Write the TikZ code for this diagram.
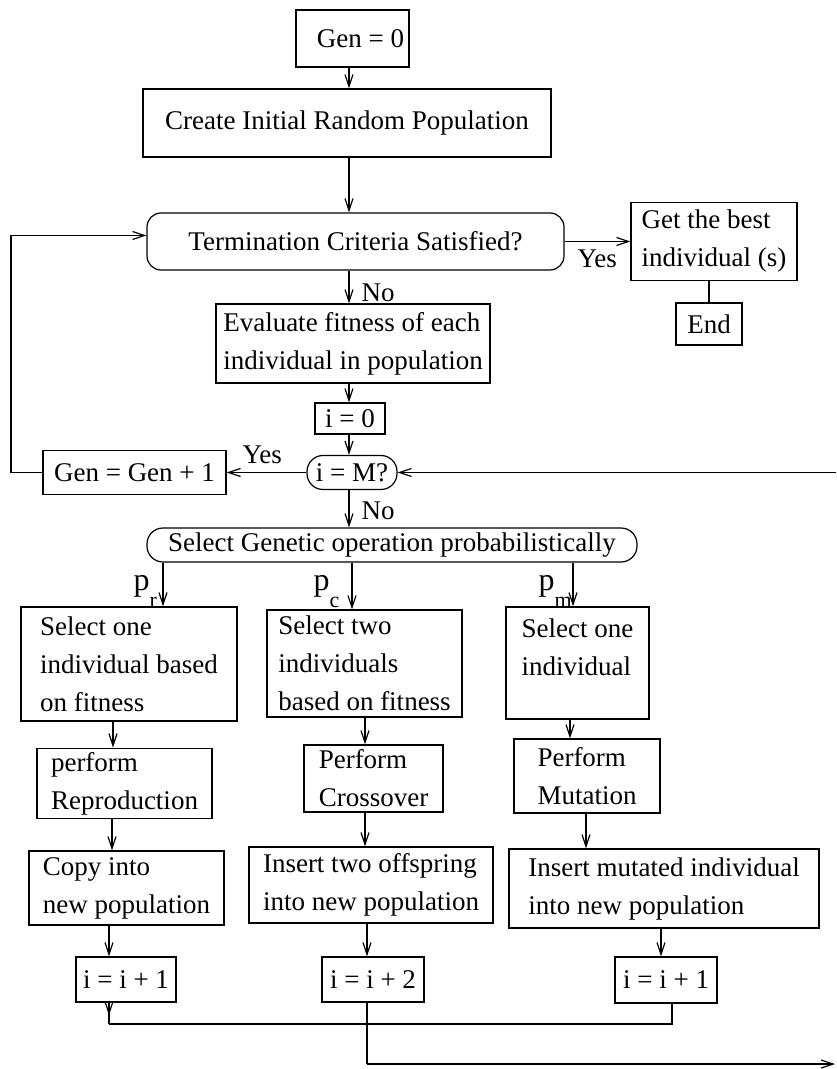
\documentclass[tikz,border=0pt]{standalone}
\usepackage{fontspec}
\setmainfont{Liberation Serif}
\usetikzlibrary{arrows.meta,decorations.markings}

\begin{document}
\begin{tikzpicture}[x=0.5pt,y=-0.5pt,
  line width=0.6pt,
  >={Straight Barb[length=6pt,width=4pt]},
  every node/.style={font=\fontsize{13.5}{19}\selectfont},
  box/.style={draw, inner sep=2pt, align=left},
  wh/.style 2 args={minimum width=#1pt, minimum height=#2pt},
  lbl/.style={anchor=base west, inner sep=0pt},
  arr/.style={->},
  midarr/.style={postaction={decorate},
    decoration={markings, mark=at position 0.6 with {\arrow{>}}}},
]
\useasboundingbox (0,0) rectangle (836,1069);

% main column
\node[box, wh={56.5}{28.5}] (gen0) at (352.5,38.5) {\hspace*{8pt}Gen = 0};
\node[box, wh={204}{34}] (create) at (347,123) {Create Initial Random Population};
\node[box, wh={208.5}{28.5}, rounded corners=7pt] (term) at (355.5,241.5) {Termination Criteria Satisfied?};
\node[box, wh={83}{39}] (best) at (714,241.5) {Get the best\\individual (s)};
\node[box, wh={33}{21}] (end) at (709,324) {End};
\node[box, wh={137}{39.5}] (eval) at (353,343.5) {Evaluate fitness of each\\individual in population};
\node[box, wh={35}{15.5}] (i0) at (350,418.5) {i = 0};
\node[box, wh={45}{17}, rounded corners=8pt] (iM) at (352,472.5) {i = M?};
\node[box, wh={91.5}{22}] (gp1) at (134.5,472.5) {Gen = Gen + 1};
\node[box, wh={245}{17}, rounded corners=8pt] (sel) at (392,545) {Select Genetic operation probabilistically};

% operator rows
\node[box, wh={108}{57}] (s1) at (129,664) {Select one\\individual based\\on fitness};
\node[box, wh={97.5}{53.5}] (s2) at (364.5,663.5) {Select two\\individuals\\based on fitness};
\node[draw, inner sep=2pt, wh={71.5}{50}] (s3) at (577.5,663) {\begin{tabular}{@{}l@{}}Select one\\individual\\[14pt]\end{tabular}};

\node[box, wh={87.5}{31.5}] (r2) at (124.5,783.5) {perform\\Reproduction};
\node[box, wh={69.5}{33.5}] (c2) at (373.5,778.5) {Perform\\Crossover};
\node[box, wh={73}{37}] (m2) at (587,776) {Perform\\Mutation};

\node[box, wh={97.5}{37}] (r3) at (126.5,888) {Copy into\\new population};
\node[box, wh={122}{38}] (c3) at (371,885) {Insert two offspring\\into new population};
\node[box, wh={155}{39.5}] (m3) at (664,888.5) {Insert mutated individual\\into new population};

\node[box, wh={50}{22.5}] (r4) at (126,979.5) {i = i + 1};
\node[box, wh={51}{22.5}] (c4) at (373,979.5) {i = i + 2};
\node[box, wh={51}{23}] (m4) at (666,980) {i = i + 1};

% labels
\node[lbl] (yes1) at (577,268) {Yes};
\node[lbl] (no1) at (361,301) {No};
\node[lbl] (yes2) at (242,463) {Yes};
\node[lbl] (no2) at (361,519) {No};
\node[lbl] (pr) at (133,590) {{\fontsize{16}{16}\selectfont p}\raisebox{-8.5pt}{\fontsize{11}{11}\selectfont r}};
\node[lbl] (pc) at (313,590) {{\fontsize{16}{16}\selectfont p}\raisebox{-8.5pt}{\fontsize{11}{11}\selectfont c}};
\node[lbl] (pm) at (538,590) {{\fontsize{16}{16}\selectfont p}\raisebox{-8.5pt}{\fontsize{11}{11}\selectfont m}};

% routing coordinates
\coordinate (col) at (349,0);
\coordinate (fb) at (11,0);
\coordinate (ein) at (836,472.5);
\coordinate (xr) at (163,0);
\coordinate (xc) at (352,0);
\coordinate (xm) at (573,0);
\coordinate (xr2) at (113,0);
\coordinate (xc2) at (365,0);
\coordinate (xm2) at (570,0);
\coordinate (xr3) at (112,0);
\coordinate (xm3) at (586,0);
\coordinate (xc4) at (367,0);
\coordinate (xm4) at (661,0);
\coordinate (jl) at (109,1024);
\coordinate (jr) at (672,1024);
\coordinate (jb) at (367,1064);
\coordinate (eout) at (835,1064);

% main column connectors
\draw[arr] (col |- gen0.south) -- (col |- create.north);
\draw[arr] (col |- create.south) -- (col |- term.north);
\draw[arr] (col |- term.south) -- (col |- eval.north);
\draw[arr] (col |- eval.south) -- (col |- i0.north);
\draw[arr] (col |- i0.south) -- (col |- iM.north);
\draw[arr] (col |- iM.south) -- (col |- sel.north);
\draw[arr] (term.east) -- (term.east -| best.west);
\draw (best.south -| end.north) -- (end.north);
\draw[arr] (gp1.west) -- (gp1.west -| fb) |- ([yshift=3pt]term.west);
\draw[arr] (iM.west) -- (gp1.east);
\draw[arr] (ein) -- (iM.east);

% operator branches
\draw[arr] (xr |- sel.south) -- (xr |- s1.north);
\draw[arr] (xc |- sel.south) -- (xc |- s2.north);
\draw[arr] (xm |- sel.south) -- (xm |- s3.north);
\draw[arr] (xr2 |- s1.south) -- (xr2 |- r2.north);
\draw[arr] (xc2 |- s2.south) -- (xc2 |- c2.north);
\draw[arr] (xm2 |- s3.south) -- (xm2 |- m2.north);
\draw[arr] (xr3 |- r2.south) -- (xr3 |- r3.north);
\draw[arr] (xc2 |- c2.south) -- (xc2 |- c3.north);
\draw[arr] (xm3 |- m2.south) -- (xm3 |- m3.north);
\draw[arr] (jl |- r3.south) -- (jl |- r4.north);
\draw[arr] (xc4 |- c3.south) -- (xc4 |- c4.north);
\draw[arr] (xm4 |- m3.south) -- (xm4 |- m4.north);

% collecting line and loop back
\draw[midarr] (jl |- r4.south) -- (jl);
\draw (jl) -- (jr) -- (jr |- m4.south);
\draw (jb |- c4.south) -- (jb);
\draw[arr] (jb) -- (eout);
\end{tikzpicture}
\end{document}
